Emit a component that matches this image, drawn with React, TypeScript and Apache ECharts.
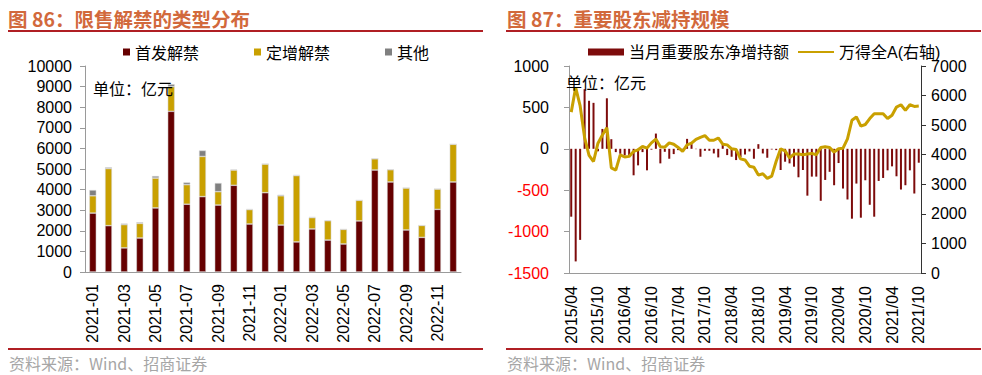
import React, { useEffect, useRef } from "react";
import * as echarts from "echarts";

// ---------- Left chart data (亿元) ----------
const leftMonths = [
  "2021-01", "2021-02", "2021-03", "2021-04", "2021-05", "2021-06",
  "2021-07", "2021-08", "2021-09", "2021-10", "2021-11", "2021-12",
  "2022-01", "2022-02", "2022-03", "2022-04", "2022-05", "2022-06",
  "2022-07", "2022-08", "2022-09", "2022-10", "2022-11", "2022-12",
];
const ipoUnlock = [2860, 2250, 1170, 1650, 3110, 7800, 3290, 3660, 3250, 4210, 2330, 3850, 2280, 1460, 2090, 1550, 1360, 2480, 4950, 4370, 2040, 1680, 3040, 4370];
const placementUnlock = [840, 2770, 1130, 710, 1450, 1200, 950, 1950, 650, 740, 700, 1390, 1420, 3220, 550, 940, 710, 1000, 550, 600, 2040, 580, 990, 1830];
const otherUnlock = [280, 60, 50, 50, 100, 120, 110, 290, 420, 30, 20, 10, 50, 30, 30, 20, 0, 0, 0, 0, 0, 0, 0, 0];
const leftYTicks = { min: 0, max: 10000, interval: 1000 };

// ---------- Right chart data ----------
const rightMonths: string[] = [];
for (let y = 2015; y <= 2021; y++) {
  for (let m = 1; m <= 12; m++) {
    if (y === 2015 && m < 4) continue;
    if (y === 2021 && m > 10) continue;
    rightMonths.push(`${y}/${m < 10 ? "0" + m : m}`);
  }
}
const netHolding = [
  -820, -1360, -1100, 720, 580, 555, -30, 240, 610, 116,
  -40, -60, -80, -80, -320, -200, -40, -260, -10, 184,
  -176, -36, -120, -64, -16, -8, 120, 56, -4, -96,
  -24, -24, -56, -104, 50, -76, -96, -136, -100, -68,
  -32, -120, 56, -56, -108, -8, -16, -256, -156, -176,
  -216, -344, -256, -566, -336, -336, -628, -376, -278, -440,
  -172, -480, -612, -844, -420, -832, -380, -676, -820, -388,
  -352, -260, -212, -332, -492, -440, -260, -540, -168,
];
const windAllA = [
  5440, 6270, 5650, 4580, 3980, 3770, 4390, 4666, 4915, 3555,
  3478, 3995, 3922, 3944, 4111, 4166, 4277, 4222, 4400, 4528,
  4266, 4255, 4400, 4355, 4244, 4111, 4333, 4389, 4522, 4589,
  4644, 4489, 4489, 4566, 4355, 4333, 4200, 4178, 3860, 3822,
  3611, 3578, 3311, 3355, 3200, 3278, 3778, 4200, 4133, 3889,
  4022, 4022, 4000, 4022, 4044, 4000, 4244, 4266, 4244, 4089,
  4200, 4222, 4533, 5166, 5277, 4966, 5022, 5222, 5389, 5389,
  5389, 5222, 5333, 5611, 5689, 5500, 5689, 5633, 5644,
];
const rightLeftTicks = { min: -1500, max: 1000, interval: 500 };
const rightRightTicks = { min: 0, max: 7000, interval: 1000 };

const FONT = "'Liberation Sans', Arial, 'Noto Sans CJK SC', sans-serif";
const CJK = "'Noto Sans CJK SC', 'Liberation Sans', sans-serif";
const TITLE_COLOR = "#d2693c";
const RULE_COLOR = "#b01f24";
const DARK_RED = "#660000";
const GOLD = "#c9a000";

export default function App() {
  const ref = useRef<HTMLDivElement>(null);

  useEffect(() => {
    if (!ref.current) return;
    const chart = echarts.init(ref.current, undefined, { renderer: "svg" });
    const axisLabelBase = {
      fontSize: 16, color: "#000", fontFamily: FONT,
      formatter: (v: any) => String(v),
    };
    const greyLine = { lineStyle: { color: "#9a9a9a", width: 1 } };

    chart.setOption({
      animation: false,
      backgroundColor: "#fff",
      textStyle: { fontFamily: FONT },
      graphic: [
        { type: "text", x: 8, y: 18, style: { text: "图 86：限售解禁的类型分布", fill: TITLE_COLOR, font: `bold 19.5px ${CJK}`, verticalAlign: "middle" } },
        { type: "text", x: 507, y: 18, style: { text: "图 87：重要股东减持规模", fill: TITLE_COLOR, font: `bold 19.5px ${CJK}`, verticalAlign: "middle" } },
        { type: "line", shape: { x1: 8, y1: 31, x2: 483, y2: 31 }, style: { stroke: RULE_COLOR, lineWidth: 2 } },
        { type: "line", shape: { x1: 506, y1: 31, x2: 981, y2: 31 }, style: { stroke: RULE_COLOR, lineWidth: 2 } },
        { type: "line", shape: { x1: 8, y1: 349, x2: 483, y2: 349 }, style: { stroke: RULE_COLOR, lineWidth: 2 } },
        { type: "line", shape: { x1: 506, y1: 349, x2: 981, y2: 349 }, style: { stroke: RULE_COLOR, lineWidth: 2 } },
        { type: "text", x: 9, y: 363, style: { text: "资料来源：Wind、招商证券", fill: "#a6a6a6", font: `16px ${CJK}`, verticalAlign: "middle" } },
        { type: "text", x: 507, y: 363, style: { text: "资料来源：Wind、招商证券", fill: "#a6a6a6", font: `16px ${CJK}`, verticalAlign: "middle" } },
        { type: "text", x: 93, y: 88, z: 10, style: { text: "单位：亿元", fill: "#000", font: `16px ${CJK}`, verticalAlign: "middle" } },
        { type: "text", x: 566, y: 82, z: 10, style: { text: "单位：亿元", fill: "#000", font: `16px ${CJK}`, verticalAlign: "middle" } },
      ],
      legend: [
        {
          data: ["首发解禁", "定增解禁", "其他"],
          left: 118, top: 39, icon: "rect", itemWidth: 7, itemHeight: 7, itemGap: 55,
          itemStyle: { borderWidth: 0 },
          textStyle: { fontSize: 16, color: "#000", fontFamily: CJK },
        },
        {
          data: [
            { name: "当月重要股东净增持额", icon: "rect" },
            { name: "万得全A(右轴)", itemStyle: { opacity: 0 } },
          ],
          left: 583, top: 39, itemWidth: 36, itemHeight: 7, itemGap: 8,
          textStyle: { fontSize: 16, color: "#000", fontFamily: FONT },
        },
      ],
      grid: [
        { left: 85, top: 66, width: 376, height: 206 },
        { left: 569, top: 66, width: 352, height: 207 },
      ],
      xAxis: [
        {
          gridIndex: 0, type: "category", data: leftMonths,
          axisLine: greyLine,
          axisTick: { interval: 0, length: 5, lineStyle: { color: "#9a9a9a" } },
          axisLabel: { fontSize: 16, color: "#000", fontFamily: FONT, interval: 1, rotate: 90, margin: 12 },
        },
        {
          gridIndex: 1, type: "category", data: rightMonths,
          axisLine: { onZero: false, ...greyLine },
          axisTick: { interval: 5, length: 5, lineStyle: { color: "#9a9a9a" } },
          axisLabel: { fontSize: 16, color: "#000", fontFamily: FONT, interval: 5, rotate: 90, margin: 13 },
        },
      ],
      yAxis: [
        {
          gridIndex: 0, type: "value", ...leftYTicks,
          splitLine: { show: false },
          axisLine: { show: true, ...greyLine },
          axisTick: { show: true, length: 5, lineStyle: { color: "#9a9a9a" } },
          axisLabel: { ...axisLabelBase, margin: 13 },
        },
        {
          gridIndex: 1, type: "value", ...rightLeftTicks,
          splitLine: { show: false },
          axisLine: { show: true, onZero: false, ...greyLine },
          axisTick: { show: true, length: 5, lineStyle: { color: "#9a9a9a" } },
          axisLabel: {
            ...axisLabelBase, margin: 20,
            color: (v: any) => (Number(v) < 0 ? "#ff0000" : "#000"),
          },
        },
        {
          gridIndex: 1, type: "value", position: "right", ...rightRightTicks,
          splitLine: { show: false },
          axisLine: { show: true, onZero: false, lineStyle: { color: "#333", width: 1 } },
          axisTick: { show: true, length: 5, lineStyle: { color: "#333" } },
          axisLabel: { ...axisLabelBase, margin: 10 },
        },
      ],
      series: [
        {
          name: "首发解禁", type: "bar", stack: "unlock", xAxisIndex: 0, yAxisIndex: 0,
          barWidth: 7, data: ipoUnlock,
          itemStyle: { color: DARK_RED, borderColor: "rgba(215,215,215,0.9)", borderWidth: 0.6 },
        },
        {
          name: "定增解禁", type: "bar", stack: "unlock", xAxisIndex: 0, yAxisIndex: 0,
          barWidth: 7, data: placementUnlock,
          itemStyle: { color: GOLD, borderColor: "rgba(215,215,215,0.9)", borderWidth: 0.6 },
        },
        {
          name: "其他", type: "bar", stack: "unlock", xAxisIndex: 0, yAxisIndex: 0,
          barWidth: 7, data: otherUnlock,
          itemStyle: { color: "#808080", borderColor: "rgba(215,215,215,0.9)", borderWidth: 0.6 },
        },
        {
          name: "当月重要股东净增持额", type: "bar", xAxisIndex: 1, yAxisIndex: 1,
          barWidth: 2, data: netHolding,
          itemStyle: { color: "#7d0b0b" },
        },
        {
          name: "万得全A(右轴)", type: "line", xAxisIndex: 1, yAxisIndex: 2,
          data: windAllA, symbol: "none", z: 5,
          lineStyle: { color: GOLD, width: 3 },
          itemStyle: { color: GOLD },
        },
      ],
    });
    return () => chart.dispose();
  }, []);

  return (
    <div
      ref={ref}
      style={{ position: "fixed", left: 0, top: 0, width: 982, height: 375, background: "#fff" }}
    />
  );
}
